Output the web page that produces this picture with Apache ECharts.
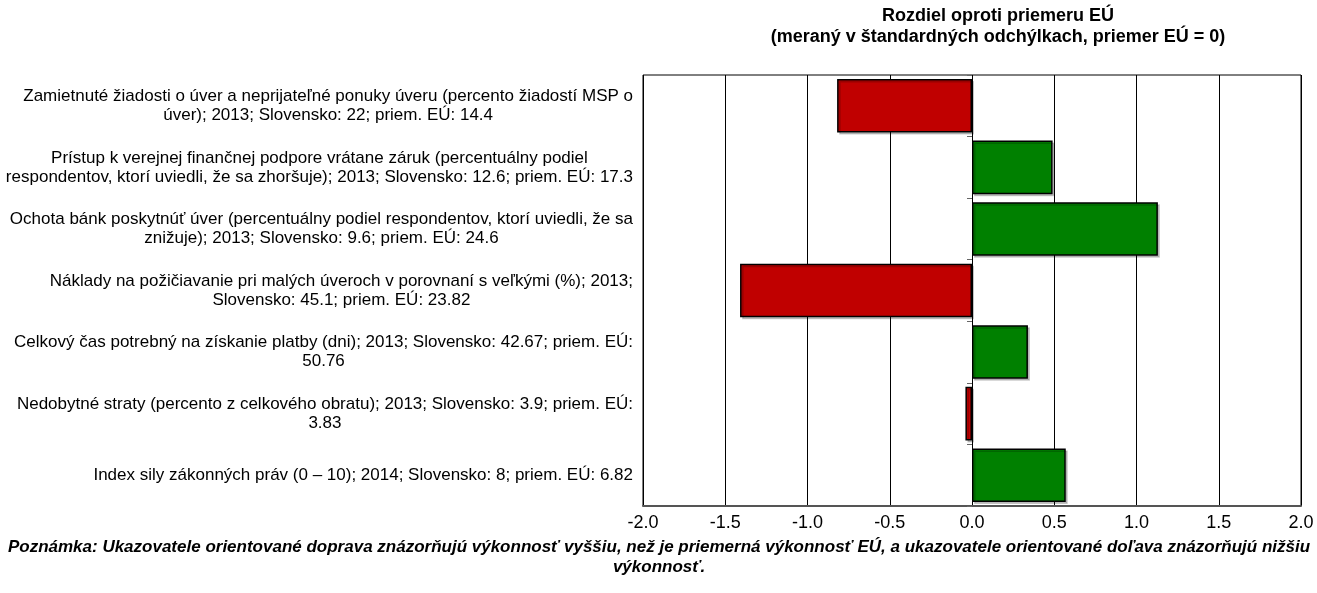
<!DOCTYPE html>
<html>
<head>
<meta charset="utf-8">
<script src="https://cdn.jsdelivr.net/npm/echarts@6/dist/echarts.min.js"></script>
<style>
  html, body { margin: 0; padding: 0; background: #fff; }
  #chart { width: 1317px; height: 593px; }
</style>
</head>
<body>
<div id="chart"></div>
<script>
// indikátory (zhora nadol)
var categories = [
  'Zamietnuté žiadosti o úver a neprijateľné ponuky úveru (percento žiadostí MSP o\núver); 2013; Slovensko: 22; priem. EÚ: 14.4',
  'Prístup k verejnej finančnej podpore vrátane záruk (percentuálny podiel\nrespondentov, ktorí uviedli, že sa zhoršuje); 2013; Slovensko: 12.6; priem. EÚ: 17.3',
  'Ochota bánk poskytnúť úver (percentuálny podiel respondentov, ktorí uviedli, že sa\nznižuje); 2013; Slovensko: 9.6; priem. EÚ: 24.6',
  'Náklady na požičiavanie pri malých úveroch v porovnaní s veľkými (%); 2013;\nSlovensko: 45.1; priem. EÚ: 23.82',
  'Celkový čas potrebný na získanie platby (dni); 2013; Slovensko: 42.67; priem. EÚ:\n50.76',
  'Nedobytné straty (percento z celkového obratu); 2013; Slovensko: 3.9; priem. EÚ:\n3.83',
  'Index sily zákonných práv (0 – 10); 2014; Slovensko: 8; priem. EÚ: 6.82'
];
// rozdiel v štandardných odchýlkach
var values = [-0.82, 0.49, 1.13, -1.41, 0.34, -0.04, 0.57];

var titleText = 'Rozdiel oproti priemeru EÚ\n(meraný v štandardných odchýlkach, priemer EÚ = 0)';
var noteText = 'Poznámka: Ukazovatele orientované doprava znázorňujú výkonnosť vyššiu, než je priemerná výkonnosť EÚ, a ukazovatele orientované doľava znázorňujú nižšiu\nvýkonnosť.';

var chart = echarts.init(document.getElementById('chart'));
var font = 'Liberation Sans, Arial, sans-serif';

var option = {
  animation: false,
  textStyle: { fontFamily: font },
  title: [
    {
      text: titleText,
      left: 993,
      top: 1,
      textAlign: 'center',
      textStyle: { fontFamily: font, fontSize: 18, fontWeight: 'bold', color: '#000', lineHeight: 21, align: 'center' }
    },
    {
      text: noteText,
      left: 654,
      top: 532,
      textAlign: 'center',
      textStyle: { fontFamily: font, fontSize: 17, fontWeight: 'bold', fontStyle: 'italic', color: '#000', lineHeight: 20, align: 'center' }
    }
  ],
  grid: {
    left: 643,
    right: 16,
    top: 75,
    bottom: 87,
    show: true,
    borderColor: '#000',
    borderWidth: 1,
    containLabel: false
  },
  xAxis: {
    type: 'value',
    min: -2,
    max: 2,
    interval: 0.5,
    axisLine: { show: true, lineStyle: { color: '#555', width: 2 } },
    axisTick: { show: false },
    splitLine: { show: true, lineStyle: { color: '#000', width: 1 } },
    axisLabel: {
      color: '#000',
      fontSize: 18,
      fontFamily: font,
      margin: 8,
      formatter: function (v) { return v.toFixed(1); }
    }
  },
  yAxis: [
    {
      type: 'category',
      data: categories,
      inverse: true,
      axisLine: { show: false },
      axisTick: { show: false },
      axisLabel: {
        margin: 10,
        color: '#000',
        fontSize: 17,
        fontFamily: font,
        lineHeight: 19,
        formatter: function (v) { return '{c|' + v + '}'; },
        rich: { c: { align: 'center', fontSize: 17, lineHeight: 19, color: '#000', fontFamily: font } }
      }
    },
    {
      // krátke značky na nulovej osi
      type: 'category',
      data: categories,
      inverse: true,
      position: 'left',
      offset: -329,
      axisLine: { show: false },
      axisTick: { show: true, length: 5, lineStyle: { color: '#666' } },
      axisLabel: { show: false }
    }
  ],
  series: [
    {
      type: 'bar',
      data: values,
      barCategoryGap: '13%',
      itemStyle: {
        color: function (p) { return p.value < 0 ? '#C00000' : '#008000'; },
        borderColor: '#000',
        borderWidth: 1.5,
        shadowColor: 'rgba(0,0,0,0.2)',
        shadowOffsetX: 2,
        shadowOffsetY: 2
      }
    }
  ]
};

chart.setOption(option);
</script>
</body>
</html>
